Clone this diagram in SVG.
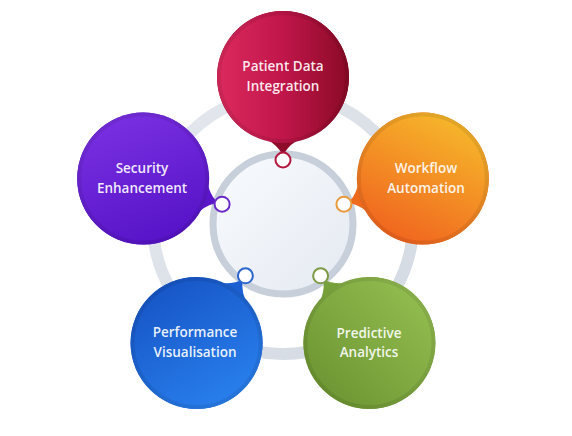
<svg xmlns="http://www.w3.org/2000/svg" width="572" height="436" viewBox="0 0 572 436">
<defs>
<linearGradient id="gRing" x1="0" y1="0" x2="1" y2="1"><stop offset="0" stop-color="#e4e8ee"/><stop offset="1" stop-color="#d3d9e2"/></linearGradient>
<linearGradient id="gCenter" x1="0" y1="0" x2="1" y2="1"><stop offset="0" stop-color="#f9fbfe"/><stop offset="1" stop-color="#e4e9f1"/></linearGradient>
<linearGradient id="gRed" x1="0" y1="0.5" x2="1" y2="0.5"><stop offset="0" stop-color="#dc2a5e"/><stop offset="0.5" stop-color="#c0164a"/><stop offset="1" stop-color="#8a0a26"/></linearGradient>
<linearGradient id="gOrange" x1="0.75" y1="0" x2="0.25" y2="1"><stop offset="0" stop-color="#f6ba2b"/><stop offset="1" stop-color="#f0611e"/></linearGradient>
<linearGradient id="gPurple" x1="0.3" y1="0" x2="0.7" y2="1"><stop offset="0" stop-color="#7a30e2"/><stop offset="1" stop-color="#5512c6"/></linearGradient>
<linearGradient id="gBlue" x1="0.2" y1="0" x2="0.8" y2="1"><stop offset="0" stop-color="#1653c4"/><stop offset="1" stop-color="#2a82f0"/></linearGradient>
<linearGradient id="gGreen" x1="0" y1="1" x2="1" y2="0"><stop offset="0" stop-color="#678f2e"/><stop offset="1" stop-color="#98c354"/></linearGradient>
<path id="tail" d="M -37.9 54 A 66 66 0 1 1 37.9 54 Q 7 62 0 79 Q -7 62 -37.9 54 Z"/>
</defs>
<style>
.lbl{font-family:"Open Sans","Liberation Sans",sans-serif;font-size:13.5px;font-weight:600;fill:#ffffff;fill-opacity:0.92;text-anchor:middle}
.rim{fill:none;stroke:#000;stroke-opacity:0.08;stroke-width:4}
.dot{fill:#ffffff;stroke-width:2}
</style>
<rect width="572" height="436" fill="#ffffff"/>
<g id="connectors">
<circle cx="283" cy="224" r="130" fill="none" stroke="url(#gRing)" stroke-width="12"/>
</g>
<g id="hub">
<circle cx="283" cy="224" r="70" fill="url(#gCenter)" stroke="#c7cfda" stroke-width="7"/>
</g>
<g id="patient-data-integration">
<use href="#tail" transform="translate(283,77)" fill="#8f0b2a"/>
<circle cx="283" cy="77" r="66" fill="url(#gRed)"/>
<circle cx="283" cy="77" r="64" class="rim"/>
<text class="lbl" x="283" y="71">Patient Data</text>
<text class="lbl" x="283" y="91">Integration</text>
<circle class="dot" cx="283" cy="160" r="7.5" stroke="#b3183f"/>
</g>
<g id="workflow-automation">
<use href="#tail" transform="translate(422.8,178.6) rotate(72)" fill="#f06a1e"/>
<circle cx="422.8" cy="178.6" r="66" fill="url(#gOrange)"/>
<circle cx="422.8" cy="178.6" r="64" class="rim"/>
<text class="lbl" x="426" y="173">Workflow</text>
<text class="lbl" x="426" y="193">Automation</text>
<circle class="dot" cx="343.9" cy="204.2" r="7.5" stroke="#e99a3c"/>
</g>
<g id="security-enhancement">
<use href="#tail" transform="translate(143.2,178.6) rotate(-72)" fill="#5a16c8"/>
<circle cx="143.2" cy="178.6" r="66" fill="url(#gPurple)"/>
<circle cx="143.2" cy="178.6" r="64" class="rim"/>
<text class="lbl" x="142" y="173">Security</text>
<text class="lbl" x="142" y="193">Enhancement</text>
<circle class="dot" cx="222.1" cy="204.2" r="7.5" stroke="#6a2bc8"/>
</g>
<g id="performance-visualisation">
<use href="#tail" transform="translate(196.6,342.9) rotate(-144)" fill="#1c5fd2"/>
<circle cx="196.6" cy="342.9" r="66" fill="url(#gBlue)"/>
<circle cx="196.6" cy="342.9" r="64" class="rim"/>
<text class="lbl" x="195" y="337">Performance</text>
<text class="lbl" x="195" y="357">Visualisation</text>
<circle class="dot" cx="245.4" cy="275.8" r="7.5" stroke="#2b66cc"/>
</g>
<g id="predictive-analytics">
<use href="#tail" transform="translate(369.4,342.9) rotate(144)" fill="#76a03a"/>
<circle cx="369.4" cy="342.9" r="66" fill="url(#gGreen)"/>
<circle cx="369.4" cy="342.9" r="64" class="rim"/>
<text class="lbl" x="369" y="338">Predictive</text>
<text class="lbl" x="369" y="357">Analytics</text>
<circle class="dot" cx="320.6" cy="275.8" r="7.5" stroke="#7d9a45"/>
</g>
</svg>
